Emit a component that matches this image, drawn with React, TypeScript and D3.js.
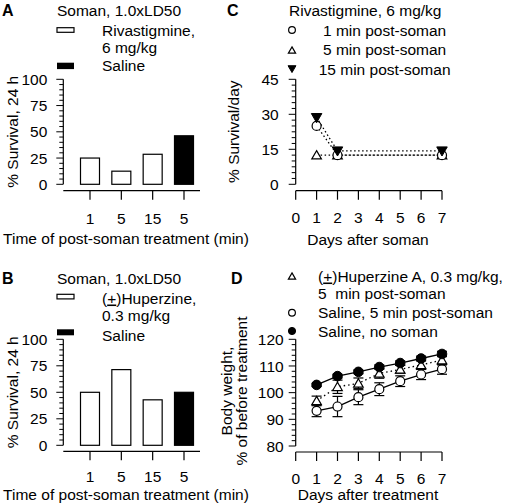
import React from "react";
import * as d3 from "d3";

const FONT = "'Liberation Sans', Arial, Helvetica, sans-serif";
const FS = 15.5;

// ---------- Panel A ----------
const timeCats = ["1", "5", "15", "5"];
const treatA = ["Rivastigmine", "Rivastigmine", "Rivastigmine", "Saline"];
const survivalA = [25, 12.5, 28.6, 46.2];
// ---------- Panel B ----------
const treatB = ["Huperzine", "Huperzine", "Huperzine", "Saline"];
const survivalB = [50, 71.4, 42.9, 50];
const survTicks = [0, 25, 50, 75, 100];
// ---------- Panel C ----------
const daysC = [1, 2, 7];
const c1min = [25, 12.5, 12.5];
const c5min = [12.5, 12.5, 12.5];
const c15min = [28.6, 14.3, 14.3];
const cTicks = [0, 15, 30, 45];
// ---------- Panel D ----------
const daysD = [1, 2, 3, 4, 5, 6, 7];
const dHup = [96.9, 102.2, 103.5, 107.2, 108.7, 110.4, 112.2];
const dHupErr = [1.8, 2.5, 2.0, 1.8, 1.5, 1.6, 1.8];
const dSal = [93.2, 94.8, 98.3, 101.3, 104.3, 106.8, 108.8];
const dSalErr = [2.2, 3.8, 2.8, 2.4, 2.0, 1.9, 1.9];
const dCtl = [102.9, 106.2, 107.8, 109.6, 111.1, 112.8, 114.5];
const dCtlErr = [0.6, 0.7, 0.7, 0.8, 0.8, 0.9, 1.0];
const dTicks = [80, 90, 100, 110, 120];
const dayTicks = [0, 1, 2, 3, 4, 5, 6, 7];

const fillOf = (g: string) => (g === "Saline" ? "#000" : "#fff");

function YAxis({ x, scale, majors, step, labelGap = 16 }: any) {
  const [d0, d1] = scale.domain();
  const minors = d3.range(d0, d1 + step / 2, step);
  return (
    <g>
      <line x1={x} x2={x} y1={scale(d0)} y2={scale(d1)} stroke="#000" strokeWidth={1.2} />
      {minors.map((v: number, i: number) => {
        const major = majors.some((m: number) => Math.abs(m - v) < 1e-6);
        return (
          <line key={i} x1={x - (major ? 7 : 4)} x2={x} y1={scale(v)} y2={scale(v)} stroke="#000" strokeWidth={1} />
        );
      })}
      {majors.map((m: number) => (
        <text key={m} x={x - labelGap} y={scale(m)} dy="0.36em" textAnchor="end" fontSize={FS} fontFamily={FONT}>
          {m}
        </text>
      ))}
    </g>
  );
}

function XAxis({ y, x0, x1, ticks, labels, labelY }: any) {
  return (
    <g>
      <line x1={x0} x2={x1} y1={y} y2={y} stroke="#000" strokeWidth={1.2} />
      {ticks.map((t: number, i: number) => (
        <g key={i}>
          <line x1={t} x2={t} y1={y} y2={y + 9} stroke="#000" strokeWidth={1.2} />
          <text x={t} y={labelY} textAnchor="middle" fontSize={FS} fontFamily={FONT}>
            {labels[i]}
          </text>
        </g>
      ))}
    </g>
  );
}

function RotLabel({ x, y, lines, lineGap = 15 }: any) {
  return (
    <text transform={`translate(${x},${y}) rotate(-90)`} textAnchor="middle" fontSize={FS} fontFamily={FONT}>
      {lines.map((l: string, i: number) => (
        <tspan key={i} x={0} dy={i === 0 ? 0 : lineGap}>
          {l}
        </tspan>
      ))}
    </text>
  );
}

function PlusMinus() {
  return (
    <>
      (<tspan textDecoration="underline">+</tspan>)
    </>
  );
}

function BarPanel({ letter, topY, values, groups, y0, y100, axisY, labelOffset, titleY, legend }: any) {
  const axisX = 63.3;
  const y = d3.scaleLinear().domain([0, 100]).range([y0, y100]);
  const x = d3.scalePoint<number>().domain(d3.range(values.length)).range([90, 184]);
  const bw = 19;
  return (
    <g>
      <text x={2} y={topY} fontSize={16} fontWeight="bold" fontFamily={FONT}>{letter}</text>
      <text x={57} y={topY} fontSize={FS} fontFamily={FONT}>Soman, 1.0xLD50</text>
      {legend}
      <YAxis x={axisX} scale={y} majors={survTicks} step={5} />
      {values.map((v: number, i: number) => (
        <rect key={i} x={x(i)! - bw / 2} y={y(v)} width={bw} height={y(0) - y(v)} fill={fillOf(groups[i])} stroke="#000" strokeWidth={1.2} />
      ))}
      <XAxis y={axisY} x0={axisX} x1={200} ticks={values.map((_: any, i: number) => x(i))} labels={timeCats} labelY={axisY + labelOffset} />
      <text x={126} y={titleY} textAnchor="middle" fontSize={FS} fontFamily={FONT}>
        Time of post-soman treatment (min)
      </text>
      <RotLabel x={18} y={(y0 + y100) / 2} lines={["% Survival, 24 h"]} />
    </g>
  );
}

function tri(size: number) {
  return d3.symbol().type(d3.symbolTriangle).size(size)()!;
}

function Marker({ kind, x, y, s = 1 }: any) {
  if (kind === "openCircle") return <circle cx={x} cy={y} r={4.5 * s} fill="#fff" stroke="#000" strokeWidth={1.2} />;
  if (kind === "filledCircle") return <circle cx={x} cy={y} r={4.8 * s} fill="#000" stroke="#000" />;
  if (kind === "openTri")
    return <path d={tri(40 * s * s)} transform={`translate(${x},${y + 1})`} fill="#fff" stroke="#000" strokeWidth={1.2} />;
  return <path d={tri(48 * s * s)} transform={`translate(${x},${y - 1}) rotate(180)`} fill="#000" stroke="#000" />;
}

export default function App() {
  const xC = d3.scaleLinear().domain([0, 7]).range([295.7, 442]);
  const yC = d3.scaleLinear().domain([0, 45]).range([184.3, 79.3]);
  const xD = d3.scaleLinear().domain([0, 7]).range([295.7, 442]);
  const yD = d3.scaleLinear().domain([80, 120]).range([446, 339.3]);

  const lineC = (vals: number[]) =>
    d3.line<number>().x((_, i) => xC(daysC[i])).y((v) => yC(v))(vals)!;
  const lineD = (vals: number[]) =>
    d3.line<number>().x((_, i) => xD(daysD[i])).y((v) => yD(v))(vals)!;

  const cSeries = [
    { vals: c5min, kind: "openTri" },
    { vals: c1min, kind: "openCircle" },
    { vals: c15min, kind: "filledTri" },
  ];

  const dSeries = [
    { vals: dSal, err: dSalErr, kind: "openCircle", dash: undefined },
    { vals: dHup, err: dHupErr, kind: "openTri", dash: "1.5,3" },
    { vals: dCtl, err: dCtlErr, kind: "filledCircle", dash: undefined },
  ];

  return (
    <svg width={506} height={504} style={{ position: "absolute", left: 0, top: 0, background: "#fff" }}>
      <rect width={506} height={504} fill="#fff" />
      {/* Panel A */}
      <BarPanel
        letter="A"
        topY={15.5}
        values={survivalA}
        groups={treatA}
        y0={184.3}
        y100={79.3}
        axisY={190.7}
        labelOffset={33}
        titleY={244}
        legend={
          <g fontSize={FS} fontFamily={FONT}>
            <rect x={57} y={27.7} width={17} height={4.6} fill="#fff" stroke="#000" strokeWidth={1.2} />
            <text x={102} y={35.5}>Rivastigmine,</text>
            <text x={102} y={53}>6 mg/kg</text>
            <rect x={57} y={62.7} width={17} height={6.4} fill="#000" />
            <text x={102} y={71}>Saline</text>
          </g>
        }
      />
      {/* Panel B */}
      <BarPanel
        letter="B"
        topY={283.7}
        values={survivalB}
        groups={treatB}
        y0={445.3}
        y100={339.3}
        axisY={451.3}
        labelOffset={31}
        titleY={499.5}
        legend={
          <g fontSize={FS} fontFamily={FONT}>
            <rect x={57} y={294.3} width={17} height={4.6} fill="#fff" stroke="#000" strokeWidth={1.2} />
            <text x={102} y={303.5}>
              <PlusMinus />Huperzine,
            </text>
            <text x={102} y={321}>0.3 mg/kg</text>
            <rect x={57} y={329.3} width={17} height={6} fill="#000" />
            <text x={102} y={340.5}>Saline</text>
          </g>
        }
      />

      {/* Panel C */}
      <g>
        <text x={227} y={15.5} fontSize={16} fontWeight="bold" fontFamily={FONT}>C</text>
        <g fontSize={FS} fontFamily={FONT}>
          <text x={289} y={15.5}>Rivastigmine, 6 mg/kg</text>
          <Marker kind="openCircle" x={292} y={30} s={0.75} />
          <text x={323} y={35.5}>1 min post-soman</text>
          <Marker kind="openTri" x={292} y={50} s={0.75} />
          <text x={323} y={55}>5 min post-soman</text>
          <Marker kind="filledTri" x={292} y={69} s={0.75} />
          <text x={318.7} y={74.5}>15 min post-soman</text>
        </g>
        <YAxis x={295.7} scale={yC} majors={cTicks} step={2.5} labelGap={17} />
        {cSeries.map((s, i) => (
          <path key={i} d={lineC(s.vals)} fill="none" stroke="#000" strokeWidth={1.3} strokeDasharray="1.5,2.5" />
        ))}
        {cSeries.map((s, i) =>
          s.vals.map((v, j) => <Marker key={`${i}-${j}`} kind={s.kind} x={xC(daysC[j])} y={yC(v)} />)
        )}
        <XAxis y={190.7} x0={295.7} x1={442} ticks={dayTicks.map((d) => xC(d))} labels={dayTicks} labelY={223} />
        <text x={368} y={245} textAnchor="middle" fontSize={FS} fontFamily={FONT}>Days after soman</text>
        <RotLabel x={239} y={131.7} lines={["% Survival/day"]} />
      </g>

      {/* Panel D */}
      <g>
        <text x={231} y={283.7} fontSize={16} fontWeight="bold" fontFamily={FONT}>D</text>
        <g fontSize={FS} fontFamily={FONT}>
          <Marker kind="openTri" x={292} y={276} s={0.75} />
          <text x={318} y={281.5}>
            <PlusMinus />Huperzine A, 0.3 mg/kg,
          </text>
          <text x={318} y={299} style={{ whiteSpace: "pre" }}>{"5  min post-soman"}</text>
          <Marker kind="openCircle" x={292} y={312.7} s={0.75} />
          <text x={318} y={318}>Saline, 5 min post-soman</text>
          <Marker kind="filledCircle" x={292} y={331} s={0.75} />
          <text x={318} y={336.5}>Saline, no soman</text>
        </g>
        <YAxis x={295.7} scale={yD} majors={dTicks} step={2} labelGap={12} />
        {dSeries.map((s, i) => (
          <path key={i} d={lineD(s.vals)} fill="none" stroke="#000" strokeWidth={1.3} strokeDasharray={s.dash} />
        ))}
        {dSeries.map((s, i) =>
          s.vals.map((v, j) => {
            const cx = xD(daysD[j]);
            const hi = yD(v + s.err[j]);
            const lo = yD(v - s.err[j]);
            return (
              <g key={`${i}-${j}`}>
                <line x1={cx} x2={cx} y1={hi} y2={lo} stroke="#000" strokeWidth={1.2} />
                <line x1={cx - 5} x2={cx + 5} y1={hi} y2={hi} stroke="#000" strokeWidth={1.2} />
                <line x1={cx - 5} x2={cx + 5} y1={lo} y2={lo} stroke="#000" strokeWidth={1.2} />
                <Marker kind={s.kind} x={cx} y={yD(v)} />
              </g>
            );
          })
        )}
        <XAxis y={452} x0={295.7} x1={442} ticks={dayTicks.map((d) => xD(d))} labels={dayTicks} labelY={484} />
        <text x={368} y={500} textAnchor="middle" fontSize={FS} fontFamily={FONT}>Days after treatment</text>
        <RotLabel x={232} y={391} lines={["Body weight,", "% of before treatment"]} lineGap={15} />
      </g>
    </svg>
  );
}
